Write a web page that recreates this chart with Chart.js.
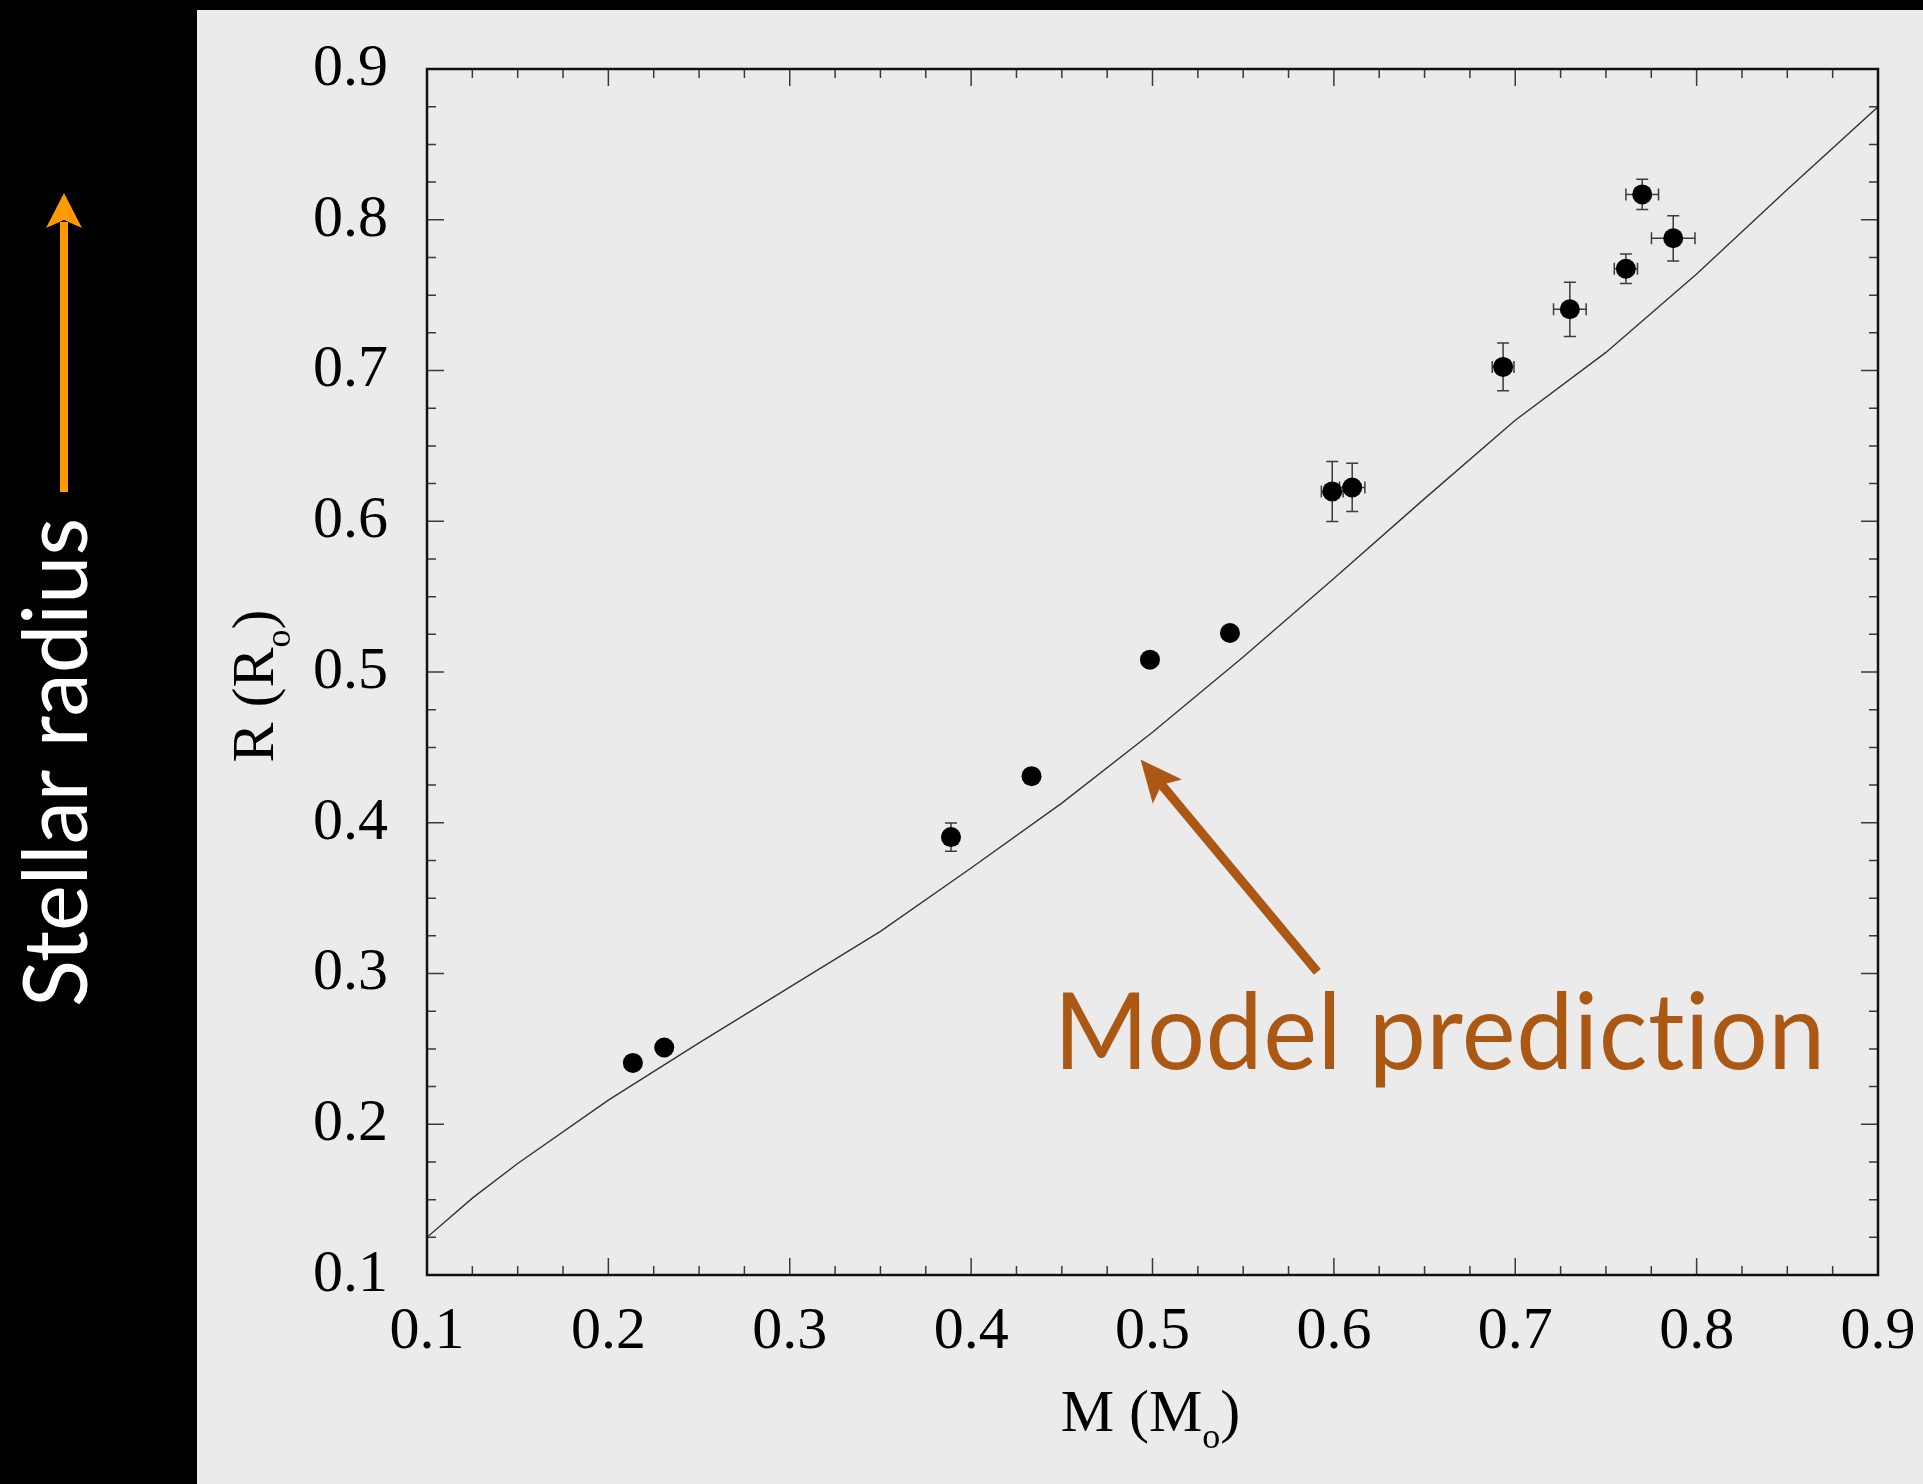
<!DOCTYPE html>
<html>
<head>
<meta charset="utf-8">
<script src="https://cdn.jsdelivr.net/npm/chart.js@4.4.1/dist/chart.umd.min.js"></script>
<style>
  html, body { margin: 0; padding: 0; background: #000; }
</style>
</head>
<body>
<canvas id="massRadius" width="1923" height="1484"></canvas>
<script>
// Model mass-radius relation (solid line)
const modelMass   = [0.1, 0.125, 0.15, 0.2, 0.25, 0.3, 0.35, 0.4, 0.45, 0.5, 0.55, 0.6, 0.65, 0.7, 0.75, 0.8, 0.85, 0.9];
const modelRadius = [0.125, 0.151, 0.174, 0.216, 0.254, 0.291, 0.328, 0.370, 0.413, 0.460, 0.510, 0.562, 0.615, 0.667, 0.712, 0.764, 0.820, 0.875];

// Measured stars (filled dots) with error bars
const starMass      = [0.2135, 0.2308, 0.3889, 0.4333, 0.4986, 0.5427, 0.5991, 0.6101, 0.6933, 0.7301, 0.7610, 0.7700, 0.7871];
const starRadius    = [0.2407, 0.2509, 0.3905, 0.4309, 0.5082, 0.5259, 0.6198, 0.6224, 0.7024, 0.7406, 0.7675, 0.8168, 0.7877];
const starMassErr   = [0, 0, 0, 0, 0, 0, 0.006, 0.007, 0.006, 0.009, 0.0064, 0.009, 0.012];
const starRadiusErr = [0, 0, 0.0094, 0, 0, 0, 0.0199, 0.016, 0.0159, 0.018, 0.0098, 0.010, 0.015];

// Axis ticks
const tickValues = [0.1, 0.2, 0.3, 0.4, 0.5, 0.6, 0.7, 0.8, 0.9];
const minorStep = 0.025;

const SERIF = "'Liberation Serif', 'Times New Roman', serif";
const SANS = "Lato, 'Open Sans', sans-serif";

// Black frame on the left/top, grey slide behind the plot
const backdrop = {
  id: "backdrop",
  beforeDraw(chart) {
    const c = chart.ctx;
    c.save();
    c.fillStyle = "#000";
    c.fillRect(0, 0, chart.width, chart.height);
    c.fillStyle = "#ebebeb";
    c.fillRect(197, 10, chart.width - 197, chart.height - 10);
    c.restore();
  }
};

// Error bars drawn under the dots
const errorBars = {
  id: "errorBars",
  beforeDatasetsDraw(chart) {
    const { ctx: c, scales: { x, y } } = chart;
    const cap = 6;
    c.save();
    c.strokeStyle = "#3c3c3c";
    c.lineWidth = 1.5;
    starMass.forEach((m, i) => {
      const r = starRadius[i];
      const px = x.getPixelForValue(m);
      const py = y.getPixelForValue(r);
      c.beginPath();
      if (starRadiusErr[i]) {
        const y0 = y.getPixelForValue(r - starRadiusErr[i]);
        const y1 = y.getPixelForValue(r + starRadiusErr[i]);
        c.moveTo(px, y0); c.lineTo(px, y1);
        c.moveTo(px - cap, y0); c.lineTo(px + cap, y0);
        c.moveTo(px - cap, y1); c.lineTo(px + cap, y1);
      }
      if (starMassErr[i]) {
        const x0 = x.getPixelForValue(m - starMassErr[i]);
        const x1 = x.getPixelForValue(m + starMassErr[i]);
        c.moveTo(x0, py); c.lineTo(x1, py);
        c.moveTo(x0, py - cap); c.lineTo(x0, py + cap);
        c.moveTo(x1, py - cap); c.lineTo(x1, py + cap);
      }
      c.stroke();
    });
    c.restore();
  }
};

// Box frame with inward major/minor ticks on all four sides
const frameTicks = {
  id: "frameTicks",
  afterDatasetsDraw(chart) {
    const { ctx: c, chartArea: a, scales: { x, y } } = chart;
    c.save();
    c.strokeStyle = "#3a3a3a";
    c.lineWidth = 1.5;
    c.beginPath();
    const n = Math.round((0.9 - 0.1) / minorStep);
    for (let i = 0; i <= n; i++) {
      const v = 0.1 + i * minorStep;
      const len = i % 4 === 0 ? 17 : 9;
      const px = x.getPixelForValue(v);
      const py = y.getPixelForValue(v);
      c.moveTo(px, a.bottom); c.lineTo(px, a.bottom - len);
      c.moveTo(px, a.top); c.lineTo(px, a.top + len);
      c.moveTo(a.left, py); c.lineTo(a.left + len, py);
      c.moveTo(a.right, py); c.lineTo(a.right - len, py);
    }
    c.stroke();
    c.strokeStyle = "#111";
    c.lineWidth = 2.5;
    c.strokeRect(a.left, a.top, a.right - a.left, a.bottom - a.top);
    c.restore();
  }
};

// text with a small lowered "o" (solar symbol stand-in)
function drawSubLabel(c, main, sub, tail, size) {
  c.font = size + "px " + SERIF;
  const w1 = c.measureText(main).width;
  c.font = Math.round(size * 0.6) + "px " + SERIF;
  const w2 = c.measureText(sub).width;
  c.font = size + "px " + SERIF;
  const w3 = c.measureText(tail).width;
  const total = w1 + w2 + w3;
  let cx = -total / 2;
  c.fillText(main, cx, 0);
  cx += w1;
  c.font = Math.round(size * 0.6) + "px " + SERIF;
  c.fillText(sub, cx, size * 0.28);
  cx += w2;
  c.font = size + "px " + SERIF;
  c.fillText(tail, cx, 0);
}

const annotations = {
  id: "annotations",
  afterDraw(chart) {
    const { ctx: c, chartArea: a, scales: { x, y } } = chart;
    c.save();
    c.fillStyle = "#000";
    c.textAlign = "left";
    c.textBaseline = "alphabetic";

    // x axis title
    c.save();
    c.translate((a.left + a.right) / 2 - 2, 1431);
    drawSubLabel(c, "M (M", "o", ")", 60);
    c.restore();

    // y axis title
    c.save();
    c.translate(273, 686);
    c.rotate(-Math.PI / 2);
    drawSubLabel(c, "R (R", "o", ")", 60);
    c.restore();

    // "Stellar radius" with orange arrow on the black strip
    c.save();
    c.fillStyle = "#fff";
    c.font = "90px " + SANS;
    const sw = c.measureText("Stellar radius").width;
    c.translate(87, 1007);
    c.rotate(-Math.PI / 2);
    c.scale(489 / sw, 1);
    c.fillText("Stellar radius", 0, 0);
    c.restore();

    c.save();
    c.fillStyle = "#ff9900";
    c.fillRect(60, 222, 8, 270);
    c.beginPath();
    c.moveTo(64, 193);
    c.lineTo(82, 228);
    c.lineTo(64, 220);
    c.lineTo(46, 228);
    c.closePath();
    c.fill();
    c.restore();

    // "Model prediction" callout
    const brown = "#ab5815";
    c.save();
    c.fillStyle = brown;
    c.font = "107px " + SANS;
    c.letterSpacing = "0.5px";
    const label = "Model predic\u200Ction";
    const tw = c.measureText(label).width;
    c.translate(x.getPixelForValue(0.4455), y.getPixelForValue(0.2365));
    c.scale(772 / tw, 1);
    c.fillText(label, 0, 0);
    c.restore();

    const tipX = x.getPixelForValue(0.4934), tipY = y.getPixelForValue(0.442);
    const tailX = x.getPixelForValue(0.5909), tailY = y.getPixelForValue(0.301);
    const ang = Math.atan2(tipY - tailY, tipX - tailX);
    c.save();
    c.translate(tipX, tipY);
    c.rotate(ang);
    const len = Math.hypot(tipX - tailX, tipY - tailY);
    c.fillStyle = brown;
    c.fillRect(-len, -4.5, len - 30, 9);
    c.beginPath();
    c.moveTo(0, 0);
    c.lineTo(-42, 19);
    c.lineTo(-33, 0);
    c.lineTo(-42, -19);
    c.closePath();
    c.fill();
    c.restore();

    c.restore();
  }
};

// keep the plot box fixed: no extra room for overhanging tick labels
function noOverhang(s) {
  s.paddingTop = 0;
  s.paddingBottom = 0;
  s.paddingLeft = 0;
  s.paddingRight = 0;
}

const axisTicks = {
  min: 0.1,
  max: 0.9,
  afterBuildTicks(scale) {
    scale.ticks = tickValues.map(v => ({ value: v }));
  },
  grid: { display: false },
  border: { display: false },
};

new Chart(document.getElementById("massRadius"), {
  type: "scatter",
  data: {
    datasets: [
      {
        label: "Model",
        data: modelMass.map((m, i) => ({ x: m, y: modelRadius[i] })),
        showLine: true,
        borderColor: "#333",
        borderWidth: 1.4,
        pointRadius: 0,
        tension: 0
      },
      {
        label: "Stars",
        data: starMass.map((m, i) => ({ x: m, y: starRadius[i] })),
        backgroundColor: "#000",
        borderWidth: 0,
        pointRadius: 10
      }
    ]
  },
  options: {
    responsive: false,
    animation: false,
    layout: { padding: { left: 0, top: 69, right: 45, bottom: 0 } },
    scales: {
      x: {
        type: "linear",
        ...axisTicks,
        afterFit(s) { s.height = 209; noOverhang(s); },
        ticks: {
          padding: 13,
          color: "#000",
          maxRotation: 0,
          font: { family: SERIF, size: 60 },
          callback: v => v.toFixed(1)
        }
      },
      y: {
        type: "linear",
        ...axisTicks,
        afterFit(s) { s.width = 427; noOverhang(s); },
        ticks: {
          padding: 31,
          color: "#000",
          font: { family: SERIF, size: 60 },
          callback: v => v.toFixed(1)
        }
      }
    },
    plugins: {
      legend: { display: false },
      tooltip: { enabled: false }
    }
  },
  plugins: [backdrop, errorBars, frameTicks, annotations]
});
</script>
</body>
</html>
